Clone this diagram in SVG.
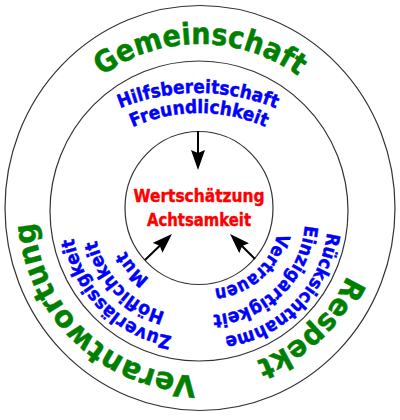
<svg xmlns="http://www.w3.org/2000/svg" width="400" height="420" viewBox="0 0 400 420">
<style>
.ring{fill:none;stroke:#333;stroke-width:1.2}
.t{font-family:"DejaVu Sans","Liberation Sans",sans-serif;font-weight:bold;stroke-width:0.45;stroke-linejoin:round}
.g{fill:#008000;stroke:#008000;font-size:30px}
.b{fill:#0000ff;stroke:#0000ff;font-size:18.5px}
.r{fill:#ff0000;stroke:#ff0000;font-size:17.5px}
.arr{stroke:#000;stroke-width:2;fill:none;marker-end:url(#ah)}
</style>
<defs>
<marker id="ah" markerUnits="userSpaceOnUse" markerWidth="20" markerHeight="14" refX="12" refY="7" orient="auto" viewBox="0 0 20 14">
<path d="M0,0 L20,7 L0,14 L3,7 Z" fill="#000"/>
</marker>
<path id="pGem" d="M34,210 A166,166 0 0 1 366,210"/>
<path id="pHil" d="M-7,298 A205,205 0 0 1 403,298"/>
<path id="pFre" d="M36,276 A163,163 0 0 1 362,276"/>
<path id="pRue" d="M327.1,232.6 A120,120 0 0 1 187.2,336.2"/>
<path id="pEin" d="M304.7,225.3 A97,97 0 0 1 191.2,313.5"/>
<path id="pVer" d="M277.4,233.1 A71,71 0 0 1 195.7,287.9"/>
<path id="pZuv" d="M172,336.3 A120,120 0 0 1 73.8,197.2"/>
<path id="pHoe" d="M165.2,312.3 A98,98 0 0 1 95.5,201"/>
<path id="pMut" d="M149.6,278.6 A74,74 0 0 1 119.1,205.2"/>
<path id="pVrt" d="M196.5,376 A166,166 0 0 1 44,153.2"/>
<path id="pRes" d="M347.1,275.5 A161,161 0 0 1 200,371"/>
</defs>
<rect width="400" height="420" fill="#fff"/>
<g id="rings">
<ellipse class="ring" cx="200" cy="208" rx="195" ry="202.5"/>
<ellipse class="ring" cx="199" cy="211" rx="149" ry="150"/>
<ellipse class="ring" cx="199" cy="208" rx="74" ry="76.5"/>
</g>
<g id="gemeinschaft"><text class="t g" text-anchor="middle"><textPath href="#pGem" startOffset="50%" textLength="210" lengthAdjust="spacingAndGlyphs">Gemeinschaft</textPath></text></g>
<g id="hilfsbereitschaft"><text class="t b" text-anchor="middle"><textPath href="#pHil" startOffset="50%" textLength="160" lengthAdjust="spacingAndGlyphs">Hilfsbereitschaft</textPath></text>
<text class="t b" text-anchor="middle"><textPath href="#pFre" startOffset="50%" textLength="137" lengthAdjust="spacingAndGlyphs">Freundlichkeit</textPath></text></g>
<g id="center"><text class="t r" x="199" y="202" text-anchor="middle" textLength="131" lengthAdjust="spacingAndGlyphs">Wertschätzung</text>
<text class="t r" x="199" y="226" text-anchor="middle" textLength="104" lengthAdjust="spacingAndGlyphs">Achtsamkeit</text></g>
<g id="rechts"><text class="t b"><textPath href="#pRue" textLength="157" lengthAdjust="spacingAndGlyphs">Rücksichtnahme</textPath></text>
<text class="t b"><textPath href="#pEin" textLength="140" lengthAdjust="spacingAndGlyphs">Einzigartigkeit</textPath></text>
<text class="t b"><textPath href="#pVer" textLength="90" lengthAdjust="spacingAndGlyphs">Vertrauen</textPath></text></g>
<g id="links"><text class="t b"><textPath href="#pZuv" textLength="148" lengthAdjust="spacingAndGlyphs">Zuverlässigkeit</textPath></text>
<text class="t b"><textPath href="#pHoe" textLength="104" lengthAdjust="spacingAndGlyphs">Höflichkeit</textPath></text>
<text class="t b"><textPath href="#pMut" textLength="37" lengthAdjust="spacingAndGlyphs">Mut</textPath></text></g>
<g id="verantwortung"><text class="t g"><textPath href="#pVrt" textLength="245" lengthAdjust="spacingAndGlyphs">Verantwortung</textPath></text></g>
<g id="respekt"><text class="t g"><textPath href="#pRes" textLength="128" lengthAdjust="spacingAndGlyphs">Respekt</textPath></text></g>
<g id="connectors">
<line class="arr" x1="198" y1="131" x2="198" y2="162"/>
<line class="arr" x1="145" y1="260" x2="166.2" y2="239.5"/>
<line class="arr" x1="255" y1="259" x2="235.7" y2="239.7"/>
</g>
</svg>
